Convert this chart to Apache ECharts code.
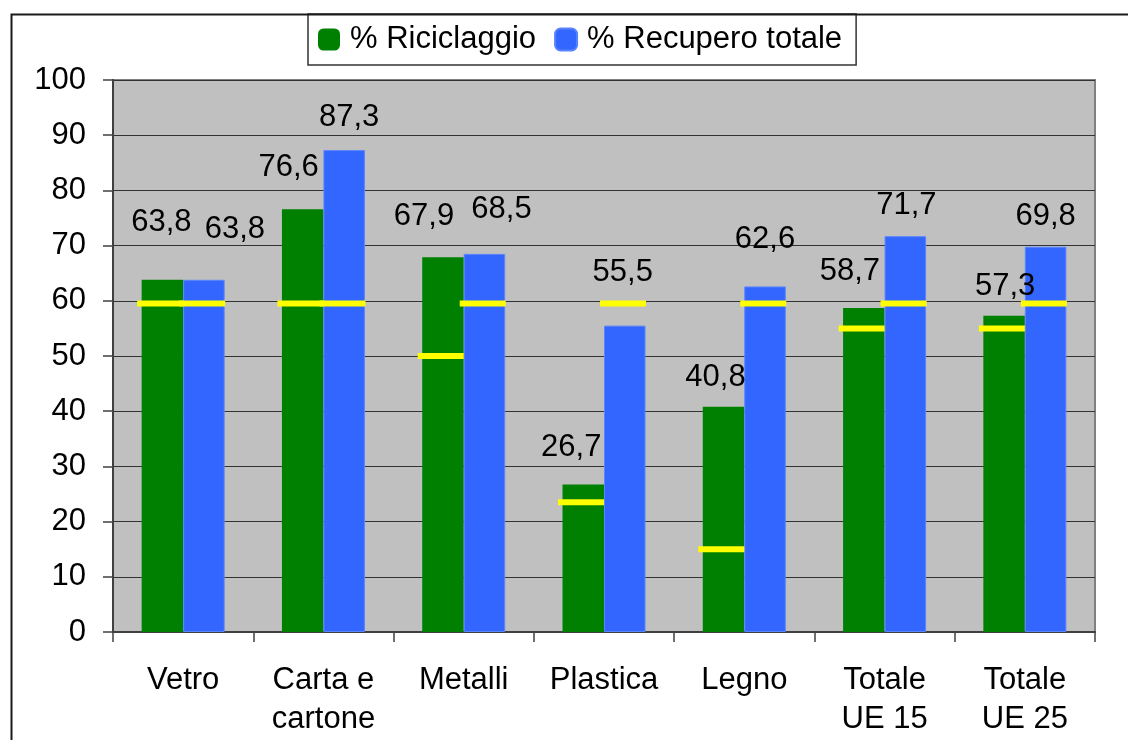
<!DOCTYPE html>
<html>
<head>
<meta charset="utf-8">
<script src="https://cdn.jsdelivr.net/npm/echarts@6/dist/echarts.min.js"></script>
<style>
html,body{margin:0;padding:0;background:#fff;}
#chart{width:1128px;height:740px;}
</style>
</head>
<body>
<div id="chart"></div>
<script>
// ---- data ----
const categories = ['Vetro', 'Carta e\ncartone', 'Metalli', 'Plastica', 'Legno', 'Totale\nUE 15', 'Totale\nUE 25'];
const riciclaggio = [63.8, 76.6, 67.9, 26.7, 40.8, 58.7, 57.3];
const recupero = [63.8, 87.3, 68.5, 55.5, 62.6, 71.7, 69.8];
// target markers (yellow dashes)
const targetRiciclaggio = [59.5, 59.5, 50, 23.5, 15, 55, 55];
const targetRecupero = [59.5, 59.5, 59.5, 59.5, 59.5, 59.5, 59.5];
const seriesNames = ['% Riciclaggio', '% Recupero totale'];
const yTicks = {min: 0, max: 100, step: 10};

// ---- layout (label placement offsets, px) ----
const labelOffGreen = [[-1, -37], [-14, -21], [-19, -20], [-12, -17], [-8, -9], [-14, -16], [1, -9]];
const labelOffBlue = [[31, -30], [5, -12], [17, -24], [-2, -33], [0, -26], [1, -10], [0, -10]];

const FONT = "'Liberation Sans', Arial, sans-serif";
const FS = 31;
const fmt = v => v.toFixed(1).replace('.', ',');

function barData(vals, offs) {
  return vals.map((v, i) => ({
    value: v,
    label: {offset: offs[i]}
  }));
}

const chart = echarts.init(document.getElementById('chart'));
chart.setOption({
  animation: false,
  backgroundColor: '#ffffff',
  graphic: [{
    type: 'rect',
    left: 9, top: 12,
    shape: {width: 1300, height: 900},
    style: {fill: 'none', stroke: '#1a1a1a', lineWidth: 2},
    silent: true, z: 100
  }],
  legend: {
    data: seriesNames,
    left: 308, top: 14,
    orient: 'horizontal',
    itemWidth: 22, itemHeight: 22,
    itemGap: 18,
    icon: 'roundRect',
    padding: [10, 14, 10, 10],
    borderColor: '#333', borderWidth: 1.5,
    backgroundColor: '#fff',
    textStyle: {fontFamily: FONT, fontSize: FS, color: '#000', padding: [0, 0, 0, 5]}
  },
  grid: {
    left: 113, right: 33, top: 80, bottom: 108,
    show: true, backgroundColor: '#C0C0C0',
    borderColor: '#808080', borderWidth: 2,
    containLabel: false
  },
  xAxis: {
    type: 'category',
    data: categories,
    boundaryGap: true,
    axisLine: {show: true, lineStyle: {color: '#404040', width: 2}},
    axisTick: {show: true, length: 10, lineStyle: {color: '#404040', width: 1.5}},
    axisLabel: {fontFamily: FONT, fontSize: FS, color: '#000', lineHeight: 39, margin: 29, interval: 0}
  },
  yAxis: {
    type: 'value',
    min: yTicks.min, max: yTicks.max, interval: yTicks.step,
    axisLine: {show: true, lineStyle: {color: '#404040', width: 2}},
    axisTick: {show: true, length: 10, lineStyle: {color: '#404040', width: 1.5}},
    axisLabel: {fontFamily: FONT, fontSize: FS, color: '#000', margin: 27},
    splitLine: {show: true, lineStyle: {color: '#333', width: 1}}
  },
  series: [
    {
      name: seriesNames[0], type: 'bar',
      data: barData(riciclaggio, labelOffGreen),
      barWidth: 41.5, barGap: '0%',
      itemStyle: {color: '#008000'},
      label: {show: true, position: 'top', distance: 5, formatter: p => fmt(p.value),
        fontFamily: FONT, fontSize: FS, color: '#000'},
      z: 2
    },
    {
      name: seriesNames[1], type: 'bar',
      data: barData(recupero, labelOffBlue),
      barWidth: 41.5, barGap: '0%',
      itemStyle: {color: '#3366FF', borderColor: '#5a84ff', borderWidth: 1},
      label: {show: true, position: 'top', distance: 5, formatter: p => fmt(p.value),
        fontFamily: FONT, fontSize: FS, color: '#000'},
      z: 2
    },
    {
      name: 'target1', type: 'scatter',
      data: targetRiciclaggio.map((v, i) => [i, v]),
      symbol: 'rect', symbolSize: [46, 6], symbolOffset: [-23, 0],
      itemStyle: {color: '#FFFF00', opacity: 1},
      z: 3, silent: true
    },
    {
      name: 'target2', type: 'scatter',
      data: targetRecupero.map((v, i) => [i, v]),
      symbol: 'rect', symbolSize: [46, 6], symbolOffset: [19, 0],
      itemStyle: {color: '#FFFF00', opacity: 1},
      z: 3, silent: true
    }
  ]
});
</script>
</body>
</html>
